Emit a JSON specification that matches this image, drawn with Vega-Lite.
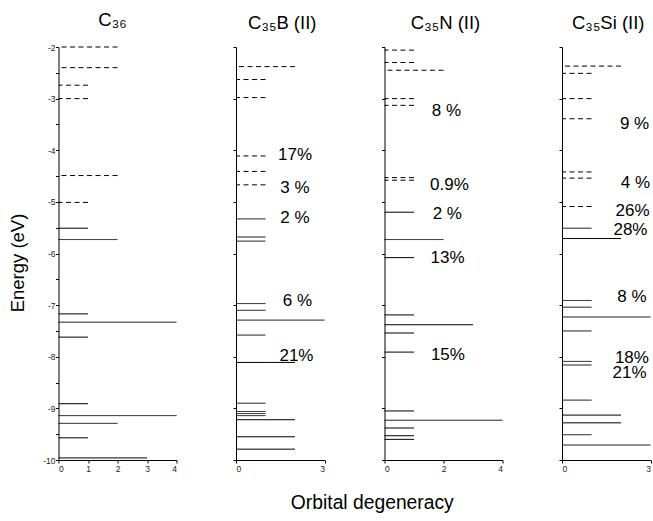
{
  "$schema": "https://vega.github.io/schema/vega-lite/v6.json",
  "padding": {"left": 7.5, "top": 10, "right": 2, "bottom": 5},
  "bounds": "flush",
  "spacing": 59.5,
  "datasets": {
    "levels": [
      {"panel": "C36", "E": -2.00, "deg": 2, "state": "unocc"},
      {"panel": "C36", "E": -2.40, "deg": 2, "state": "unocc"},
      {"panel": "C36", "E": -2.74, "deg": 1, "state": "unocc"},
      {"panel": "C36", "E": -3.00, "deg": 1, "state": "unocc"},
      {"panel": "C36", "E": -4.49, "deg": 2, "state": "unocc"},
      {"panel": "C36", "E": -5.01, "deg": 1, "state": "unocc"},
      {"panel": "C36", "E": -5.51, "deg": 1, "state": "occ"},
      {"panel": "C36", "E": -5.73, "deg": 2, "state": "occ"},
      {"panel": "C36", "E": -7.17, "deg": 1, "state": "occ"},
      {"panel": "C36", "E": -7.33, "deg": 4, "state": "occ"},
      {"panel": "C36", "E": -7.62, "deg": 1, "state": "occ"},
      {"panel": "C36", "E": -8.91, "deg": 1, "state": "occ"},
      {"panel": "C36", "E": -9.14, "deg": 4, "state": "occ"},
      {"panel": "C36", "E": -9.29, "deg": 2, "state": "occ"},
      {"panel": "C36", "E": -9.57, "deg": 1, "state": "occ"},
      {"panel": "C36", "E": -9.96, "deg": 3, "state": "occ"},

      {"panel": "C35B", "E": -2.38, "deg": 2, "state": "unocc"},
      {"panel": "C35B", "E": -2.63, "deg": 1, "state": "unocc"},
      {"panel": "C35B", "E": -2.98, "deg": 1, "state": "unocc"},
      {"panel": "C35B", "E": -4.11, "deg": 1, "state": "unocc"},
      {"panel": "C35B", "E": -4.41, "deg": 1, "state": "unocc"},
      {"panel": "C35B", "E": -4.67, "deg": 1, "state": "unocc"},
      {"panel": "C35B", "E": -5.33, "deg": 1, "state": "occ"},
      {"panel": "C35B", "E": -5.68, "deg": 1, "state": "occ"},
      {"panel": "C35B", "E": -5.76, "deg": 1, "state": "occ"},
      {"panel": "C35B", "E": -6.97, "deg": 1, "state": "occ"},
      {"panel": "C35B", "E": -7.10, "deg": 1, "state": "occ"},
      {"panel": "C35B", "E": -7.29, "deg": 3, "state": "occ"},
      {"panel": "C35B", "E": -7.58, "deg": 1, "state": "occ"},
      {"panel": "C35B", "E": -8.11, "deg": 2, "state": "occ"},
      {"panel": "C35B", "E": -8.90, "deg": 1, "state": "occ"},
      {"panel": "C35B", "E": -9.06, "deg": 1, "state": "occ"},
      {"panel": "C35B", "E": -9.10, "deg": 1, "state": "occ"},
      {"panel": "C35B", "E": -9.14, "deg": 1, "state": "occ"},
      {"panel": "C35B", "E": -9.22, "deg": 2, "state": "occ"},
      {"panel": "C35B", "E": -9.55, "deg": 2, "state": "occ"},
      {"panel": "C35B", "E": -9.79, "deg": 2, "state": "occ"},

      {"panel": "C35N", "E": -2.06, "deg": 1, "state": "unocc"},
      {"panel": "C35N", "E": -2.30, "deg": 1, "state": "unocc"},
      {"panel": "C35N", "E": -2.45, "deg": 2, "state": "unocc"},
      {"panel": "C35N", "E": -3.00, "deg": 1, "state": "unocc"},
      {"panel": "C35N", "E": -3.13, "deg": 1, "state": "unocc"},
      {"panel": "C35N", "E": -4.53, "deg": 1, "state": "unocc"},
      {"panel": "C35N", "E": -4.58, "deg": 1, "state": "unocc"},
      {"panel": "C35N", "E": -5.20, "deg": 1, "state": "occ"},
      {"panel": "C35N", "E": -5.73, "deg": 2, "state": "occ"},
      {"panel": "C35N", "E": -6.08, "deg": 1, "state": "occ"},
      {"panel": "C35N", "E": -7.19, "deg": 1, "state": "occ"},
      {"panel": "C35N", "E": -7.38, "deg": 3, "state": "occ"},
      {"panel": "C35N", "E": -7.54, "deg": 1, "state": "occ"},
      {"panel": "C35N", "E": -7.91, "deg": 1, "state": "occ"},
      {"panel": "C35N", "E": -9.05, "deg": 1, "state": "occ"},
      {"panel": "C35N", "E": -9.23, "deg": 4, "state": "occ"},
      {"panel": "C35N", "E": -9.38, "deg": 1, "state": "occ"},
      {"panel": "C35N", "E": -9.53, "deg": 1, "state": "occ"},
      {"panel": "C35N", "E": -9.60, "deg": 1, "state": "occ"},

      {"panel": "C35Si", "E": -2.37, "deg": 2, "state": "unocc"},
      {"panel": "C35Si", "E": -2.51, "deg": 1, "state": "unocc"},
      {"panel": "C35Si", "E": -3.00, "deg": 1, "state": "unocc"},
      {"panel": "C35Si", "E": -3.39, "deg": 1, "state": "unocc"},
      {"panel": "C35Si", "E": -4.42, "deg": 1, "state": "unocc"},
      {"panel": "C35Si", "E": -4.54, "deg": 1, "state": "unocc"},
      {"panel": "C35Si", "E": -5.09, "deg": 1, "state": "unocc"},
      {"panel": "C35Si", "E": -5.51, "deg": 1, "state": "occ"},
      {"panel": "C35Si", "E": -5.71, "deg": 2, "state": "occ"},
      {"panel": "C35Si", "E": -6.91, "deg": 1, "state": "occ"},
      {"panel": "C35Si", "E": -7.04, "deg": 1, "state": "occ"},
      {"panel": "C35Si", "E": -7.23, "deg": 3, "state": "occ"},
      {"panel": "C35Si", "E": -7.50, "deg": 1, "state": "occ"},
      {"panel": "C35Si", "E": -8.09, "deg": 1, "state": "occ"},
      {"panel": "C35Si", "E": -8.16, "deg": 1, "state": "occ"},
      {"panel": "C35Si", "E": -8.84, "deg": 1, "state": "occ"},
      {"panel": "C35Si", "E": -9.13, "deg": 2, "state": "occ"},
      {"panel": "C35Si", "E": -9.28, "deg": 2, "state": "occ"},
      {"panel": "C35Si", "E": -9.51, "deg": 1, "state": "occ"},
      {"panel": "C35Si", "E": -9.71, "deg": 3, "state": "occ"}
    ],
    "labels": [
      {"panel": "C35B", "x": 2.0, "E": -4.10, "label": "17%"},
      {"panel": "C35B", "x": 2.0, "E": -4.74, "label": "3 %"},
      {"panel": "C35B", "x": 2.0, "E": -5.32, "label": "2 %"},
      {"panel": "C35B", "x": 2.08, "E": -6.92, "label": "6 %"},
      {"panel": "C35B", "x": 2.05, "E": -7.99, "label": "21%"},
      {"panel": "C35N", "x": 2.1, "E": -3.24, "label": "8 %"},
      {"panel": "C35N", "x": 2.2, "E": -4.68, "label": "0.9%"},
      {"panel": "C35N", "x": 2.13, "E": -5.24, "label": "2 %"},
      {"panel": "C35N", "x": 2.14, "E": -6.08, "label": "13%"},
      {"panel": "C35N", "x": 2.15, "E": -7.97, "label": "15%"},
      {"panel": "C35Si", "x": 2.46, "E": -3.49, "label": "9 %"},
      {"panel": "C35Si", "x": 2.49, "E": -4.63, "label": "4 %"},
      {"panel": "C35Si", "x": 2.39, "E": -5.17, "label": "26%"},
      {"panel": "C35Si", "x": 2.32, "E": -5.54, "label": "28%"},
      {"panel": "C35Si", "x": 2.37, "E": -6.84, "label": "8 %"},
      {"panel": "C35Si", "x": 2.37, "E": -8.03, "label": "18%"},
      {"panel": "C35Si", "x": 2.29, "E": -8.31, "label": "21%"}
    ]
  },
  "hconcat": [
    {
      "width": 118, "height": 413,
      "title": {"text": "C₃₆", "dx": -5},
      "data": {"name": "levels"},
      "transform": [{"filter": "datum.panel === 'C36'"}],
      "mark": {"type": "rule", "color": "black", "strokeWidth": 1},
      "encoding": {
        "y": {"field": "E", "type": "quantitative", "scale": {"domain": [-10, -2], "nice": false, "zero": false},
              "axis": {"title": "Energy (eV)", "values": [-2, -2.5, -3, -3.5, -4, -4.5, -5, -5.5, -6, -6.5, -7, -7.5, -8, -8.5, -9, -9.5, -10],
                       "labelExpr": "datum.value % 1 === 0 ? '' + datum.value : ''",
                       "titleX": -35.5, "titleY": 215.5, "titleBaseline": "alphabetic", "titleAlign": "center", "titleAngle": -90}},
        "x": {"field": "deg", "type": "quantitative", "scale": {"domain": [0, 4], "nice": false},
              "axis": {"title": null, "values": [0, 1, 2, 3, 4]}},
        "x2": {"datum": 0},
        "strokeDash": {"field": "state", "type": "nominal", "scale": {"domain": ["occ", "unocc"], "range": [[1, 0], [5, 3.5]]}, "legend": null}
      }
    },
    {
      "width": 88.5, "height": 413,
      "title": {"text": "C₃₅B (II)", "dx": 2},
      "layer": [
        {
          "data": {"name": "levels"},
          "transform": [{"filter": "datum.panel === 'C35B'"}],
          "mark": {"type": "rule", "color": "black", "strokeWidth": 1},
          "encoding": {
            "y": {"field": "E", "type": "quantitative", "scale": {"domain": [-10, -2], "nice": false, "zero": false},
                  "axis": {"title": null, "labels": false, "values": [-2, -3, -4, -5, -6, -7, -8, -9, -10]}},
            "x": {"field": "deg", "type": "quantitative", "scale": {"domain": [0, 3], "nice": false},
                  "axis": {"title": null, "values": [0, 1, 2, 3]}},
            "x2": {"datum": 0},
            "strokeDash": {"field": "state", "type": "nominal", "scale": {"domain": ["occ", "unocc"], "range": [[1, 0], [5, 3.5]]}, "legend": null}
          }
        },
        {
          "data": {"name": "labels"},
          "transform": [{"filter": "datum.panel === 'C35B'"}],
          "mark": {"type": "text", "fontSize": 17, "color": "black", "align": "center", "baseline": "middle"},
          "encoding": {
            "x": {"field": "x", "type": "quantitative"},
            "y": {"field": "E", "type": "quantitative"},
            "text": {"field": "label"}
          }
        }
      ]
    },
    {
      "width": 118, "height": 413,
      "title": {"text": "C₃₅N (II)", "dx": 2},
      "layer": [
        {
          "data": {"name": "levels"},
          "transform": [{"filter": "datum.panel === 'C35N'"}],
          "mark": {"type": "rule", "color": "black", "strokeWidth": 1},
          "encoding": {
            "y": {"field": "E", "type": "quantitative", "scale": {"domain": [-10, -2], "nice": false, "zero": false},
                  "axis": {"title": null, "labels": false, "values": [-2, -3, -4, -5, -6, -7, -8, -9, -10]}},
            "x": {"field": "deg", "type": "quantitative", "scale": {"domain": [0, 4], "nice": false},
                  "axis": {"title": "Orbital degeneracy", "values": [0, 1, 2, 3, 4], "titleFontSize": 19.3,
                           "titleX": -12.7, "titleY": 48, "titleBaseline": "alphabetic", "titleAlign": "center"}},
            "x2": {"datum": 0},
            "strokeDash": {"field": "state", "type": "nominal", "scale": {"domain": ["occ", "unocc"], "range": [[1, 0], [5, 3.5]]}, "legend": null}
          }
        },
        {
          "data": {"name": "labels"},
          "transform": [{"filter": "datum.panel === 'C35N'"}],
          "mark": {"type": "text", "fontSize": 17, "color": "black", "align": "center", "baseline": "middle"},
          "encoding": {
            "x": {"field": "x", "type": "quantitative"},
            "y": {"field": "E", "type": "quantitative"},
            "text": {"field": "label"}
          }
        }
      ]
    },
    {
      "width": 88.5, "height": 413,
      "title": {"text": "C₃₅Si (II)", "dx": 2},
      "layer": [
        {
          "data": {"name": "levels"},
          "transform": [{"filter": "datum.panel === 'C35Si'"}],
          "mark": {"type": "rule", "color": "black", "strokeWidth": 1},
          "encoding": {
            "y": {"field": "E", "type": "quantitative", "scale": {"domain": [-10, -2], "nice": false, "zero": false},
                  "axis": {"title": null, "labels": false, "values": [-2, -3, -4, -5, -6, -7, -8, -9, -10]}},
            "x": {"field": "deg", "type": "quantitative", "scale": {"domain": [0, 3], "nice": false},
                  "axis": {"title": null, "values": [0, 1, 2, 3]}},
            "x2": {"datum": 0},
            "strokeDash": {"field": "state", "type": "nominal", "scale": {"domain": ["occ", "unocc"], "range": [[1, 0], [5, 3.5]]}, "legend": null}
          }
        },
        {
          "data": {"name": "labels"},
          "transform": [{"filter": "datum.panel === 'C35Si'"}],
          "mark": {"type": "text", "fontSize": 17, "color": "black", "align": "center", "baseline": "middle"},
          "encoding": {
            "x": {"field": "x", "type": "quantitative"},
            "y": {"field": "E", "type": "quantitative"},
            "text": {"field": "label"}
          }
        }
      ]
    }
  ],
  "config": {
    "view": {"stroke": null},
    "font": "Liberation Sans",
    "axis": {"domainColor": "black", "domainWidth": 1, "tickColor": "black", "tickSize": 3, "labelColor": "#222", "labelFontSize": 8.5,
             "labelPadding": 1, "grid": false, "titleFontSize": 18.5, "titleFontWeight": "normal", "titleColor": "black"},
    "axisY": {"labelPadding": 0.5},
    "title": {"fontSize": 18.5, "fontWeight": "normal", "color": "black", "frame": "group", "anchor": "middle", "baseline": "alphabetic", "offset": 13.8}
  }
}
